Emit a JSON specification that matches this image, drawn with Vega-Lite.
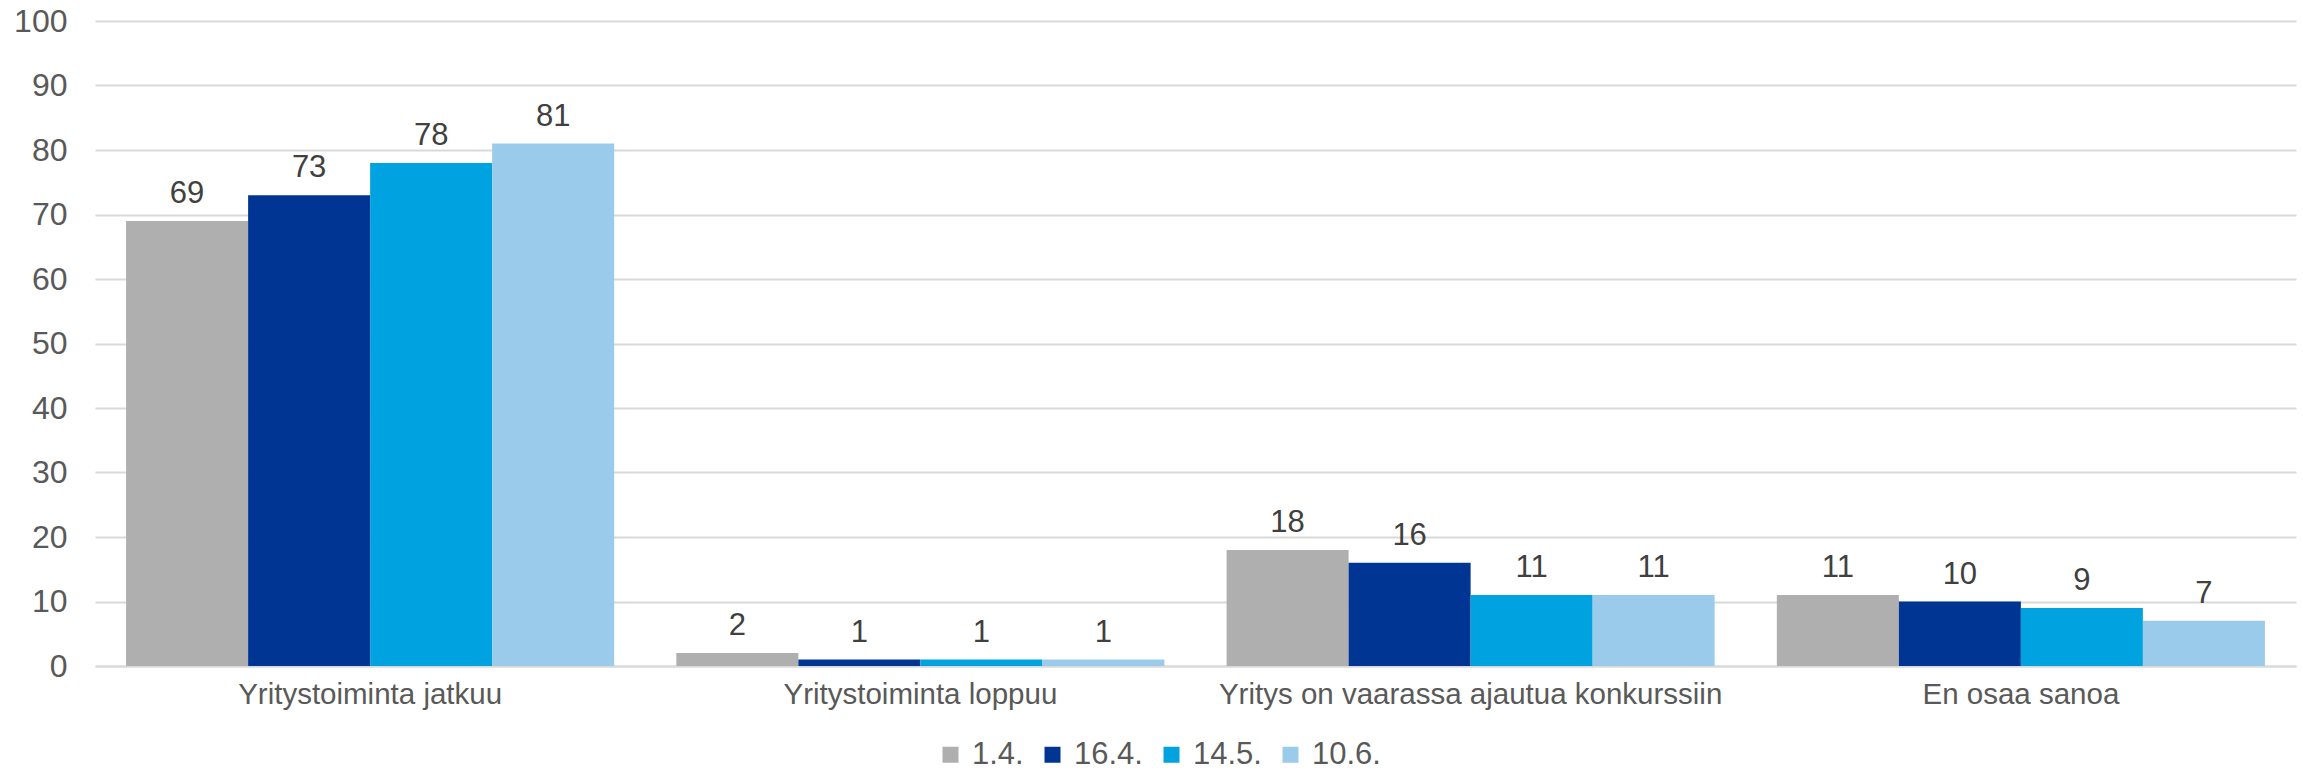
{
  "$schema": "https://vega.github.io/schema/vega-lite/v6.json",
  "width": 2201,
  "height": 645,
  "autosize": {"type": "none"},
  "padding": {"left": 95, "top": 21, "right": 7, "bottom": 108},
  "background": "white",
  "config": {
    "view": {"stroke": null},
    "font": "Liberation Sans"
  },
  "data": {
    "values": [
      {"category": "Yritystoiminta jatkuu", "series": "1.4.", "value": 69},
      {"category": "Yritystoiminta jatkuu", "series": "16.4.", "value": 73},
      {"category": "Yritystoiminta jatkuu", "series": "14.5.", "value": 78},
      {"category": "Yritystoiminta jatkuu", "series": "10.6.", "value": 81},
      {"category": "Yritystoiminta loppuu", "series": "1.4.", "value": 2},
      {"category": "Yritystoiminta loppuu", "series": "16.4.", "value": 1},
      {"category": "Yritystoiminta loppuu", "series": "14.5.", "value": 1},
      {"category": "Yritystoiminta loppuu", "series": "10.6.", "value": 1},
      {"category": "Yritys on vaarassa ajautua konkurssiin", "series": "1.4.", "value": 18},
      {"category": "Yritys on vaarassa ajautua konkurssiin", "series": "16.4.", "value": 16},
      {"category": "Yritys on vaarassa ajautua konkurssiin", "series": "14.5.", "value": 11},
      {"category": "Yritys on vaarassa ajautua konkurssiin", "series": "10.6.", "value": 11},
      {"category": "En osaa sanoa", "series": "1.4.", "value": 11},
      {"category": "En osaa sanoa", "series": "16.4.", "value": 10},
      {"category": "En osaa sanoa", "series": "14.5.", "value": 9},
      {"category": "En osaa sanoa", "series": "10.6.", "value": 7}
    ]
  },
  "encoding": {
    "x": {
      "field": "category",
      "type": "nominal",
      "sort": ["Yritystoiminta jatkuu", "Yritystoiminta loppuu", "Yritys on vaarassa ajautua konkurssiin", "En osaa sanoa"],
      "scale": {"paddingInner": 0.113, "paddingOuter": 0.0565},
      "axis": {
        "title": null,
        "labelAngle": 0,
        "labelFontSize": 29.5,
        "labelColor": "#595959",
        "labelPadding": 14,
        "labelLimit": 0,
        "ticks": false,
        "tickSize": 0,
        "domain": true,
        "domainColor": "#D9D9D9",
        "domainWidth": 2,
        "grid": false
      }
    },
    "xOffset": {
      "field": "series",
      "type": "nominal",
      "sort": ["1.4.", "16.4.", "14.5.", "10.6."],
      "scale": {"paddingInner": 0, "paddingOuter": 0}
    },
    "y": {
      "field": "value",
      "type": "quantitative",
      "scale": {"domain": [0, 100], "nice": false},
      "axis": {
        "title": null,
        "values": [0, 10, 20, 30, 40, 50, 60, 70, 80, 90, 100],
        "labelFontSize": 32,
        "labelColor": "#595959",
        "labelPadding": 28,
        "ticks": false,
        "tickSize": 0,
        "domain": false,
        "grid": true,
        "gridColor": "#D9D9D9",
        "gridWidth": 2
      }
    }
  },
  "layer": [
    {
      "mark": {"type": "bar"},
      "encoding": {
        "color": {
          "field": "series",
          "type": "nominal",
          "sort": ["1.4.", "16.4.", "14.5.", "10.6."],
          "scale": {
            "domain": ["1.4.", "16.4.", "14.5.", "10.6."],
            "range": ["#AFAFAF", "#003594", "#00A3E0", "#9BCBEB"]
          },
          "legend": {
            "title": null,
            "orient": "none",
            "legendX": 840,
            "legendY": 718,
            "direction": "horizontal",
            "columns": 4,
            "symbolType": "square",
            "symbolSize": 256,
            "symbolStrokeWidth": 0,
            "labelFontSize": 31,
            "labelColor": "#595959",
            "labelOffset": 6,
            "columnPadding": 13,
            "padding": 0
          }
        }
      }
    },
    {
      "mark": {"type": "text", "baseline": "alphabetic", "dy": -18, "fontSize": 31, "color": "#404040"},
      "encoding": {
        "text": {"field": "value", "type": "quantitative"}
      }
    }
  ]
}
